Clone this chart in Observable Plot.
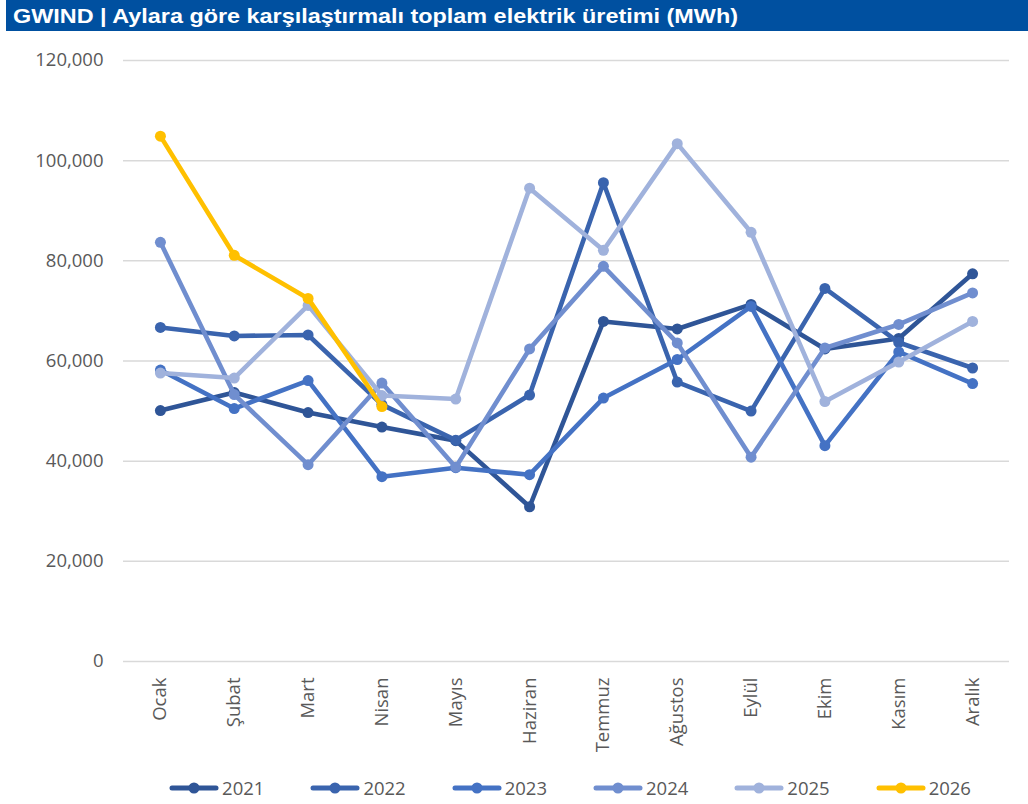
<!DOCTYPE html>
<html>
<head>
<meta charset="utf-8">
<script src="https://cdn.jsdelivr.net/npm/d3@7"></script>
<script src="https://cdn.jsdelivr.net/npm/@observablehq/plot@0.6"></script>
<style>
  body { margin: 0; background: #fff; width: 1028px; height: 804px; overflow: hidden; }
  #title { margin-left: 6px; height: 31px; background: #0050a0; color: #fff;
    font-family: "Liberation Sans", Arial, sans-serif; font-weight: bold; font-size: 21px;
    line-height: 31px; padding-left: 7px; white-space: nowrap; overflow: hidden; }
  #title span { display: inline-block; transform-origin: 0 50%; }
  #chart { margin-top: 9px; height: 720px; }
  #legend { margin-left: 127px; width: 886px; margin-top: 17px; display: flex; justify-content: center;
    font-family: "Open Sans", sans-serif; font-size: 18.5px; color: #595959; line-height: 22px; }
  .item { display: flex; align-items: center; margin: 0 23px; }
  .item span { margin-left: 3px; }
</style>
</head>
<body>
<div id="title"><span>GWIND | Aylara göre karşılaştırmalı toplam elektrik üretimi (MWh)</span></div>
<div id="chart"></div>
<div id="legend"></div>
<script>
const months = ["Ocak","Şubat","Mart","Nisan","Mayıs","Haziran","Temmuz","Ağustos","Eylül","Ekim","Kasım","Aralık"];
const years = ["2021","2022","2023","2024","2025","2026"];
const colors = ["#2f5597","#3a64ae","#4472c4","#708ecf","#a0b2dc","#ffc000"];
const yTicks = [0, 20000, 40000, 60000, 80000, 100000, 120000];

const v2021 = [50100, 53700, 49700, 46800, 44100, 30900, 67900, 66400, 71300, 62400, 64500, 77400];
const v2022 = [66700, 65000, 65200, 51300, 44200, 53200, 95600, 55800, 50000, 74500, 63700, 58600];
const v2023 = [58200, 50500, 56100, 36900, 38700, 37300, 52600, 60300, 70900, 43100, 61800, 55500];
const v2024 = [83700, 53300, 39300, 55600, 38800, 62400, 78900, 63600, 40800, 62600, 67300, 73600];
const v2025 = [57600, 56600, 71100, 53100, 52400, 94500, 82100, 103400, 85700, 51900, 59800, 67900];
const v2026 = [104900, 81100, 72500, 50900];

const series = [v2021, v2022, v2023, v2024, v2025, v2026];
const data = series.flatMap((vals, i) => vals.map((v, j) => ({year: years[i], month: months[j], value: v})));

const marks = [
  Plot.gridY(yTicks, {stroke: "#d9d9d9", strokeOpacity: 1, strokeWidth: 1.5}),
  Plot.axisY(yTicks, {tickSize: 0, tickPadding: 20, tickFormat: d3.format(","), fill: "#595959"}),
  Plot.axisX({tickSize: 0, tickPadding: 16, tickRotate: -90, fill: "#595959"})
];
years.forEach(yr => {
  const d = data.filter(r => r.year === yr);
  marks.push(Plot.lineY(d, {x: "month", y: "value", stroke: "year", strokeWidth: 4.6, strokeLinejoin: "round", strokeLinecap: "round"}));
  marks.push(Plot.dot(d, {x: "month", y: "value", fill: "year", r: 5.5}));
});

const chart = Plot.plot({
  width: 1028, height: 720,
  marginTop: 20, marginBottom: 99, marginLeft: 123, marginRight: 19,
  style: {fontFamily: "'Open Sans', sans-serif", fontSize: "18.5px", color: "#595959", background: "#fff"},
  x: {type: "point", domain: months, padding: 0.5, round: false, label: null},
  y: {domain: [0, 120000], label: null},
  color: {domain: years, range: colors},
  marks
});
document.getElementById("chart").appendChild(chart);

const t = document.querySelector("#title span");
const w = t.getBoundingClientRect().width;
t.style.transform = `scaleX(${725 / w})`;

const legend = document.getElementById("legend");
years.forEach((yr, i) => {
  const item = document.createElement("div");
  item.className = "item";
  item.innerHTML = `<svg width="50" height="14"><line x1="3" y1="7" x2="47" y2="7" stroke="${colors[i]}" stroke-width="5" stroke-linecap="round"/><circle cx="25" cy="7" r="5.5" fill="${colors[i]}"/></svg><span>${yr}</span>`;
  legend.appendChild(item);
});
</script>
</body>
</html>
